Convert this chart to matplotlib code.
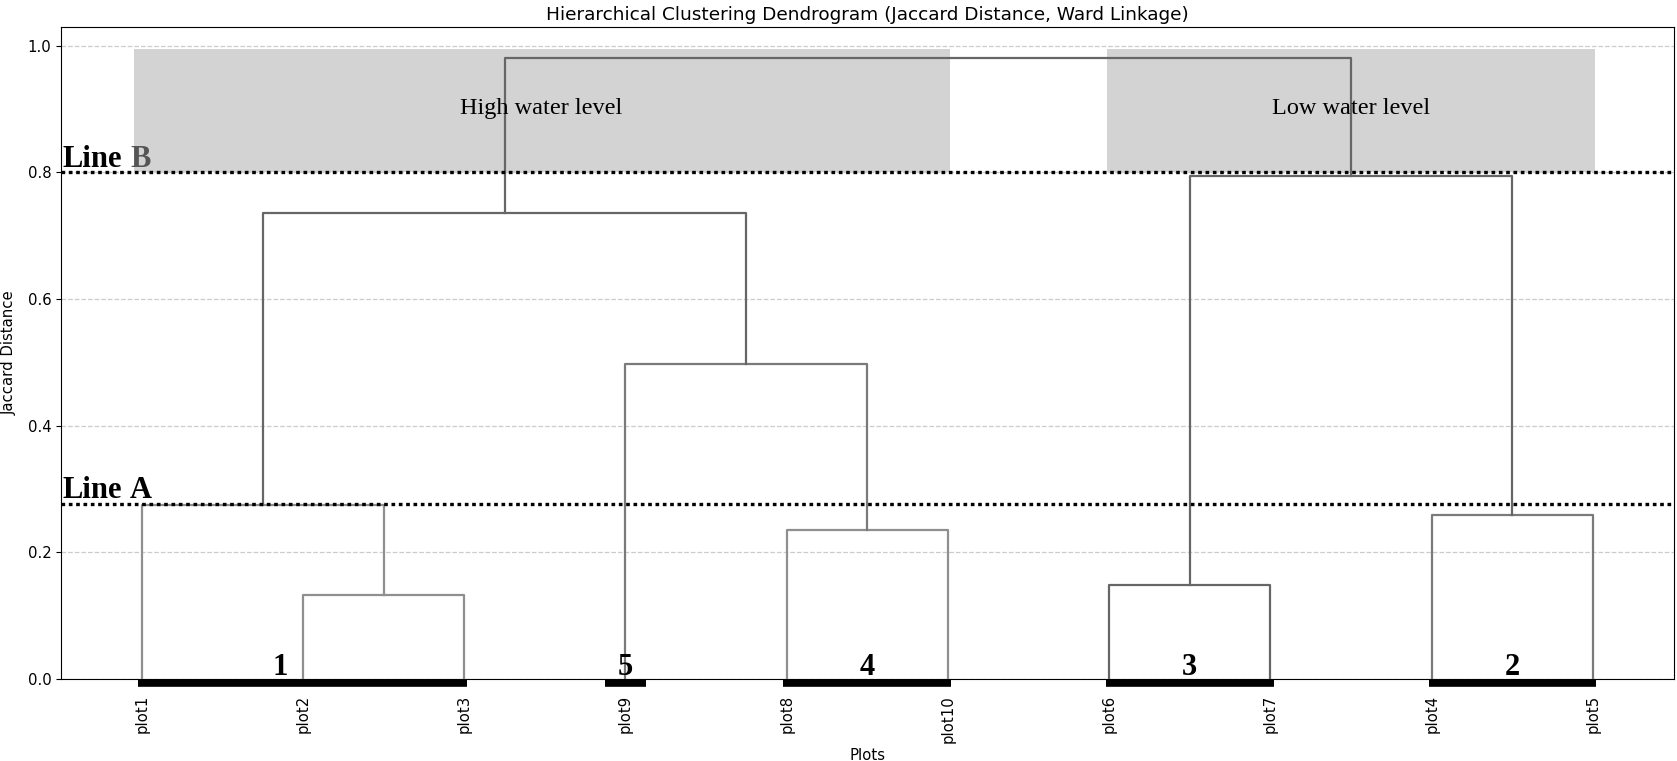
import matplotlib
matplotlib.use("Agg")
import matplotlib.pyplot as plt
from matplotlib.patches import Rectangle

# leaves in dendrogram order
leaf_labels = ["plot1", "plot2", "plot3", "plot9", "plot8",
               "plot10", "plot6", "plot7", "plot4", "plot5"]

# merges (scipy style ids: leaves 0..9, new nodes 10..)
merge_left = [1, 0, 4, 3, 6, 8, 11, 14, 16]
merge_right = [2, 10, 5, 12, 7, 9, 13, 15, 17]
merge_heights = [0.132, 0.274, 0.235, 0.498, 0.148, 0.259, 0.736, 0.794, 0.981]
merge_colors = ["#8f8f8f", "#8f8f8f", "#8f8f8f", "#7a7a7a", "#666666",
                "#7a7a7a", "#666666", "#666666", "#666666"]

# cluster groups along the leaves
cluster_names = ["1", "5", "4", "3", "2"]
cluster_first = [0, 3, 4, 6, 8]
cluster_last = [2, 3, 5, 7, 9]

# cut lines
cut_names = ["Line A", "Line B"]
cut_heights = [0.276, 0.800]

# shaded groups
group_names = ["High water level", "Low water level"]
group_first = [0, 6]
group_last = [5, 9]

serif = "Liberation Serif"

fig = plt.figure(figsize=(16.77, 7.61), dpi=100)
ax = fig.add_axes([0.0364, 0.1078, 0.9616, 0.8572])

# node positions
xs = [5 + 10 * i for i in range(len(leaf_labels))]
hs = [0.0] * len(leaf_labels)
for l, r, h, c in zip(merge_left, merge_right, merge_heights, merge_colors):
    ax.plot([xs[l], xs[l], xs[r], xs[r]], [hs[l], h, h, hs[r]],
            color=c, lw=1.6, zorder=3)
    xs.append((xs[l] + xs[r]) / 2)
    hs.append(h)

ax.set_xlim(0, 10 * len(leaf_labels))
ax.set_ylim(0, max(merge_heights) * 1.05)

# grey boxes above Line B
box_pad_left = {"High water level": 0.5, "Low water level": 0.15}
for name, a, b in zip(group_names, group_first, group_last):
    x0 = xs[a] - box_pad_left[name]
    x1 = xs[b] + 0.1
    ax.add_patch(Rectangle((x0, cut_heights[1]), x1 - x0, 0.995 - cut_heights[1],
                           facecolor="#d3d3d3", edgecolor="none", zorder=1))
    ax.text((x0 + x1) / 2, 0.9, name, ha="center", va="center",
            family=serif, fontsize=17.5, zorder=4)

# cut lines
for name, h in zip(cut_names, cut_heights):
    ax.axhline(h, color="black", lw=2.4, linestyle=(0, (1.1, 1.1)), zorder=5)
    word, letter = name.split(" ")
    t = ax.text(0.12, h + 0.009, word, ha="left", va="baseline",
                family=serif, fontsize=22, fontweight="bold", zorder=6)
    ax.annotate(letter, xy=(1, 0), xycoords=t, xytext=(5.5, 0),
                textcoords="offset points", ha="left", va="bottom",
                family=serif, fontsize=22, fontweight="bold",
                color="#555555" if name == "Line B" else "black", zorder=6)

# cluster bars and numbers
num_dx = {"1": -1.4}
for name, a, b in zip(cluster_names, cluster_first, cluster_last):
    if a == b:
        x0, x1 = xs[a] - 1.25, xs[b] + 1.25
    else:
        x0, x1 = xs[a] - 0.2, xs[b] + 0.2
    ax.plot([x0, x1], [-0.0061, -0.0061], color="black", lw=5.5,
            solid_capstyle="butt", clip_on=False, zorder=7)
    ax.text((xs[a] + xs[b]) / 2 + num_dx.get(name, 0), 0.006, name,
            ha="center", va="baseline", family=serif, fontsize=22,
            fontweight="bold", zorder=6)

ax.set_xticks([5 + 10 * i for i in range(len(leaf_labels))])
ax.set_xticklabels(leaf_labels, rotation=90, fontsize=10.7)
ax.tick_params(axis="x", pad=8)
ax.tick_params(axis="y", labelsize=10.7)
ax.set_yticks([0.0, 0.2, 0.4, 0.6, 0.8, 1.0])
ax.grid(axis="y", linestyle="--", color="#cccccc", lw=0.9, zorder=0)
ax.set_axisbelow(True)

ax.set_title("Hierarchical Clustering Dendrogram (Jaccard Distance, Ward Linkage)",
             fontsize=13.3, pad=5)
ax.set_xlabel("Plots", fontsize=10.7)
ax.set_ylabel("Jaccard Distance", fontsize=10.7, labelpad=8)

fig.savefig("out.png", dpi=100)
